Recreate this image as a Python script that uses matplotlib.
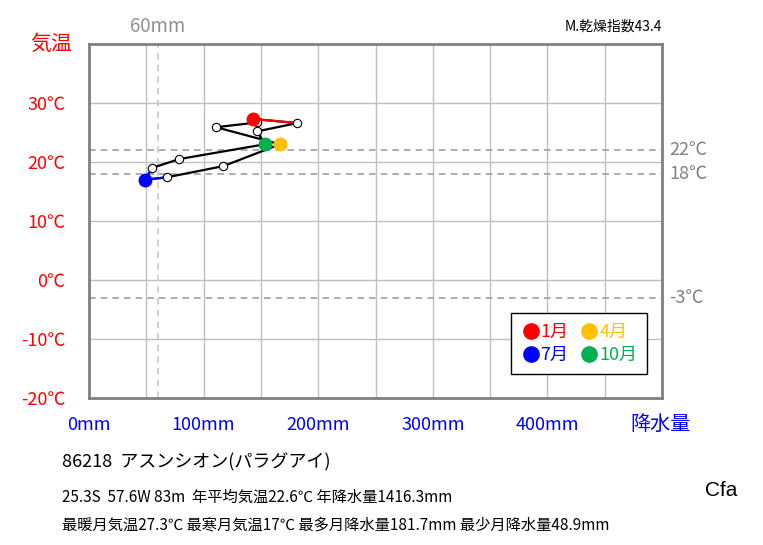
import matplotlib
matplotlib.use("Agg")
import matplotlib.pyplot as plt
from matplotlib.lines import Line2D

plt.rcParams["font.family"] = ["Noto Sans CJK JP", "DejaVu Sans"]

# monthly values, Jan..Dec
months = ["1月", "2月", "3月", "4月", "5月", "6月", "7月", "8月", "9月", "10月", "11月", "12月"]
precip = [142.8, 146.9, 110.8, 166.7, 117.2, 67.8, 48.9, 55.2, 78.8, 153.3, 146.9, 181.7]
temp = [27.3, 26.7, 25.9, 23.0, 19.3, 17.4, 17.0, 19.0, 20.5, 23.0, 25.2, 26.6]

x_ticks = [0, 100, 200, 300, 400]
x_labels = ["0mm", "100mm", "200mm", "300mm", "400mm"]
y_ticks = [-20, -10, 0, 10, 20, 30]
y_labels = ["-20℃", "-10℃", "0℃", "10℃", "20℃", "30℃"]
ref_temps = [22, 18, -3]
ref_precip = 60

key_months = [0, 3, 6, 9]
key_colors = ["#FF0000", "#FFC000", "#0000FF", "#00B050"]

fig = plt.figure(figsize=(7.63, 5.45), dpi=100)
ax = fig.add_axes([89 / 763, 1 - 398 / 545, 573 / 763, 354 / 545])
ax.set_xlim(0, 500)
ax.set_ylim(-20, 40)

# grid every 50mm / 10 deg
for v in range(50, 500, 50):
    ax.axvline(v, color="#C0C0C0", lw=1, zorder=0)
for v in range(-10, 40, 10):
    ax.axhline(v, color="#C0C0C0", lw=1, zorder=0)

for t in ref_temps:
    ax.axhline(t, color="#A0A0A0", lw=1.2, ls=(0, (4, 3)), zorder=1)
    ax.text(1.012, (t + 20) / 60, f"{t}℃", transform=ax.transAxes, color="#808080",
            fontsize=13, va="center", ha="left")
ax.axvline(ref_precip, color="#C8C8C8", lw=1.2, ls=(0, (4, 3)), zorder=1)
ax.text(ref_precip, 1.05, f"{ref_precip}mm", transform=ax.get_xaxis_transform(),
        color="#909090", fontsize=13.5, ha="center", va="center")

for s in ax.spines.values():
    s.set_color("#808080")
    s.set_linewidth(2)

ax.set_xticks(x_ticks)
ax.set_xticklabels(x_labels, color="#0000FF", fontsize=13)
ax.set_yticks(y_ticks)
ax.set_yticklabels(y_labels, color="#FF0000", fontsize=13)
ax.tick_params(length=0, pad=17, axis="y")
ax.tick_params(length=0, pad=13, axis="x")

# climograph loop
xs = precip + [precip[0]]
ys = temp + [temp[0]]
ax.plot(xs, ys, color="black", lw=1.6, zorder=3)
ax.plot([precip[11], precip[0], precip[1]], [temp[11], temp[0], temp[1]], color="#FF0000", lw=1.6, zorder=3)
ax.plot(precip[5:8], temp[5:8], color="#0000FF", lw=1.6, zorder=3)
ax.plot(precip, temp, ls="none", marker="o", ms=6, mfc="white", mec="black", mew=0.8, zorder=4)
for i, c in zip(key_months, key_colors):
    ax.plot(precip[i], temp[i], ls="none", marker="o", ms=9, color=c, zorder=5)

handles = [Line2D([], [], ls="none", marker="o", ms=11, color=c) for c in key_colors]
labels = [months[i] for i in key_months]
order = [0, 2, 1, 3]
leg = ax.legend([handles[i] for i in order], [labels[i] for i in order], ncol=2,
                loc="upper left", bbox_to_anchor=(0.736, 0.24), borderaxespad=0,
                fancybox=False, edgecolor="black", framealpha=1, fontsize=13,
                handletextpad=0.0, handlelength=1.1, columnspacing=0.6,
                borderpad=0.55, labelspacing=0.3)
leg.get_frame().set_linewidth(1)
for txt, i in zip(leg.get_texts(), order):
    txt.set_color(key_colors[i])

fig.text(51 / 763, 1 - 44 / 545, "気温", color="#FF0000", fontsize=15, ha="center", va="center")
fig.text(661 / 763, 1 - 424 / 545, "降水量", color="#0000FF", fontsize=14.5, ha="center", va="center")
fig.text(662 / 763, 1 - 27 / 545, "M.乾燥指数43.4", fontsize=10, ha="right", va="center")
fig.text(62 / 763, 1 - 462 / 545, "86218  アスンシオン(パラグアイ)", fontsize=13, va="center")
fig.text(62 / 763, 1 - 497 / 545, "25.3S  57.6W 83m  年平均気温22.6℃ 年降水量1416.3mm", fontsize=11, va="center")
fig.text(62 / 763, 1 - 525 / 545, "最暖月気温27.3℃ 最寒月気温17℃ 最多月降水量181.7mm 最少月降水量48.9mm", fontsize=11, va="center")
fig.text(721 / 763, 1 - 490 / 545, "Cfa", fontsize=15, family="Liberation Sans", ha="center", va="center")

fig.savefig("out.png", dpi=100)
